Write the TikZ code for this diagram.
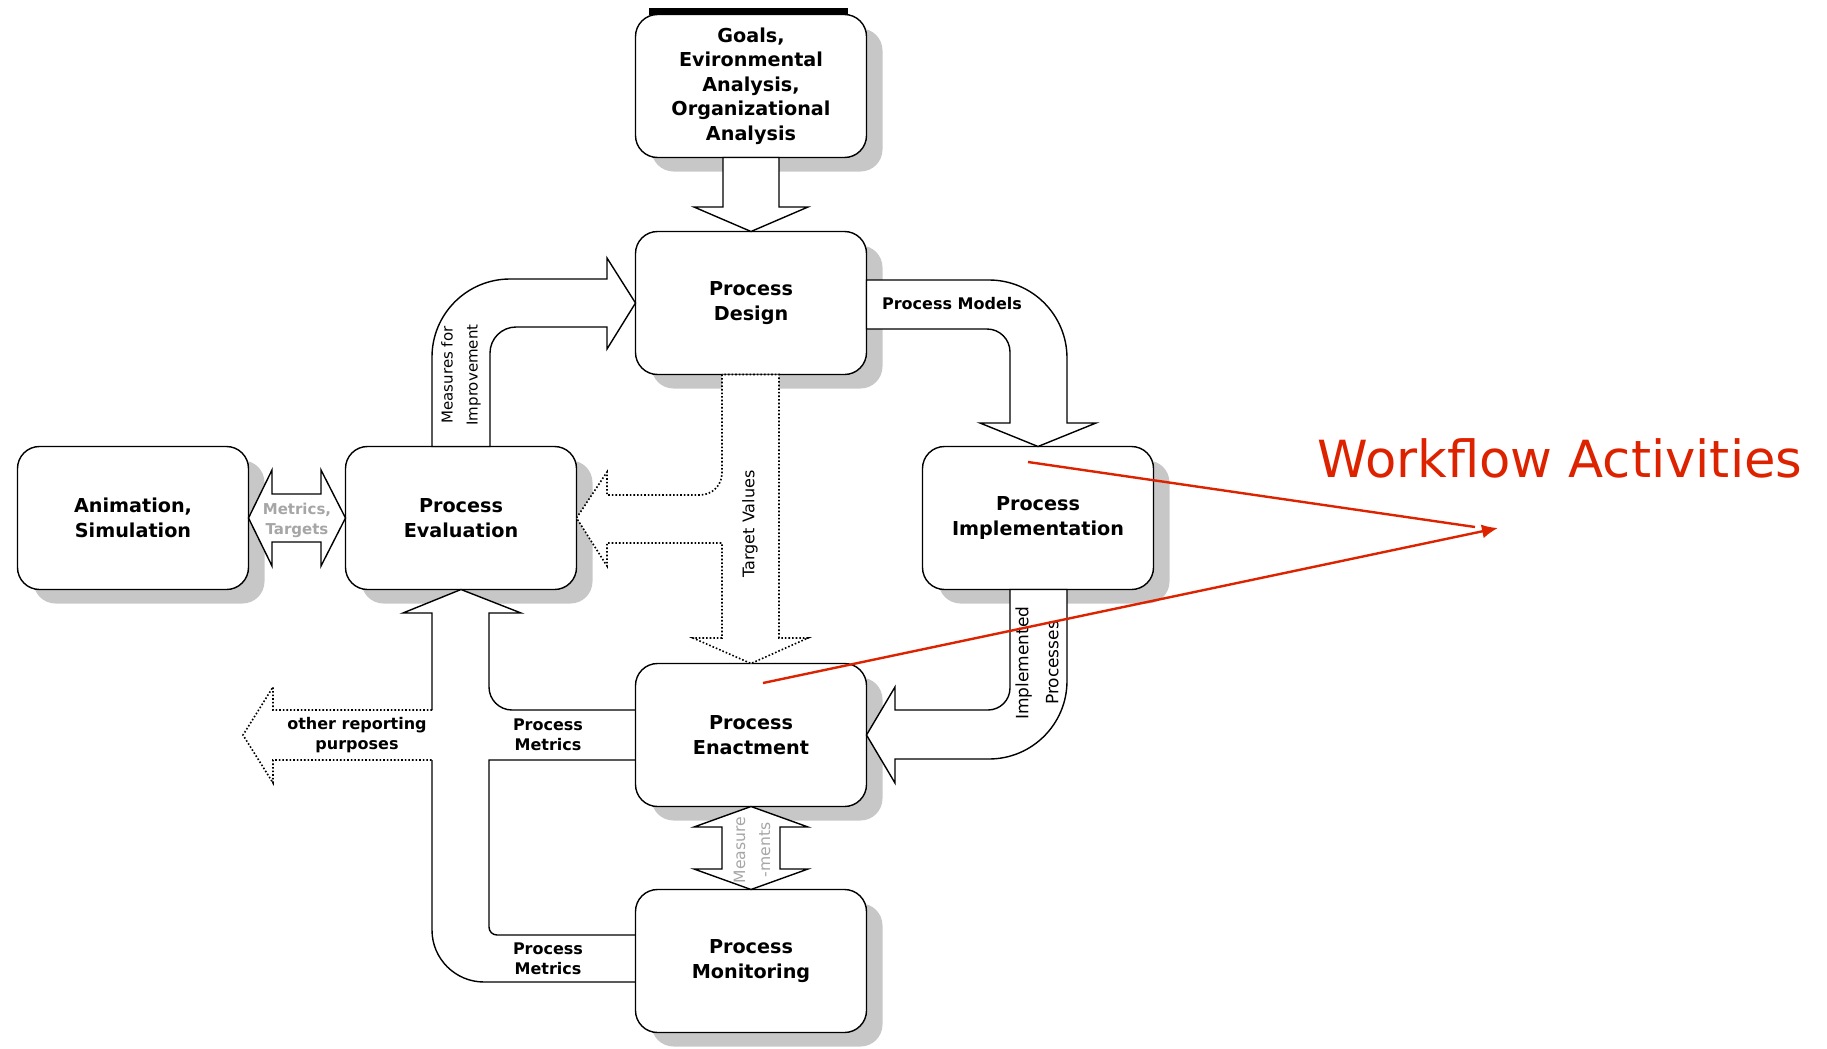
\documentclass[tikz,border=0pt]{standalone}
\usepackage{fontspec}
\setmainfont{DejaVu Sans}
\usetikzlibrary{arrows.meta,calc,shadows}
\definecolor{wfred}{RGB}{221,34,0}

\begin{document}
\begin{tikzpicture}[x=0.5pt, y=-0.5pt,
    box/.style={draw, fill=white, rounded corners=11pt, line width=0.7pt, outer sep=0pt,
        minimum width=115.5pt, minimum height=71.5pt, align=center,
        font=\fontsize{9.6}{12.2}\selectfont\bfseries,
        drop shadow={shadow xshift=8pt, shadow yshift=-7pt, fill=black!22, opacity=1}},
    fatarrow/.style={draw, fill=white, line width=0.7pt},
    fatline/.style={draw, line width=0.7pt},
    dotarrow/.style={draw, fill=white, line width=0.8pt, densely dotted},
    flowlabel/.style={align=center, inner sep=0pt, font=\fontsize{8}{10}\selectfont\bfseries},
    sidelabel/.style={align=center, inner sep=0pt, rotate=90, font=\fontsize{7.5}{12.5}\selectfont},
    greylabel/.style={align=center, inner sep=0pt, text=black!35, font=\fontsize{7.5}{10}\selectfont\bfseries},
    redline/.style={wfred, line width=1.2pt}]

\useasboundingbox (0,0) rectangle (1827,1049);
\fill (649,8) rectangle (848,15);

\node[box] (goals) at (751,86) {Goals,\\Evironmental\\Analysis,\\Organizational\\Analysis};
\node[box] (design) at (751,303) {Process\\Design};
\node[box] (anim) at (133,518) {Animation,\\Simulation};
\node[box] (eval) at (461,518) {Process\\Evaluation};
\node[box] (impl) at (1038,518) {Process\\Implementation};
\node[box] (enact) at (751,735) {Process\\Enactment};
\node[box] (monitor) at (751,961) {Process\\Monitoring};

% block arrows
\draw[fatarrow] (723,0 |- goals.south) -- (723,207) -- (694,207) -- (design.north) -- (808,207) -- (779,207) -- (779,0 |- goals.south) -- cycle;
\draw[fatarrow] (432,0 |- eval.north) -- (432,357) arc[start angle=180, end angle=90, radius=39pt] -- (607,279) -- (607,258) -- (design.west) -- (607,349) -- (607,327) -- (516,327) arc[start angle=90, end angle=180, radius=13pt] -- (490,0 |- eval.north) -- cycle;
\draw[fatarrow] (design.east |- 0,280) -- (989,280) arc[start angle=90, end angle=0, radius=39pt] -- (1067,423) -- (1096,423) -- (impl.north) -- (980,423) -- (1010,423) -- (1010,352) arc[start angle=0, end angle=90, radius=11.5pt] -- (design.east |- 0,329) -- cycle;
\draw[dotarrow] (722,0 |- design.south) -- (722,473) arc[start angle=0, end angle=-90, radius=11pt] -- (607,495) -- (607,472) -- (eval.east) -- (607,566) -- (607,543) -- (722,543) -- (722,638) -- (693,638) -- (enact.north) -- (808,638) -- (779,638) -- (779,0 |- design.south) -- cycle;
\draw[fatarrow] (1010,0 |- impl.south) -- (1010,688) arc[start angle=0, end angle=-90, radius=11pt] -- (895,710) -- (895,687) -- (enact.east) -- (895,783) -- (895,759) -- (989,759) arc[start angle=-90, end angle=0, radius=39pt] -- (1067,0 |- impl.south) -- cycle;
\draw[fatarrow] (anim.east) -- (272,470) -- (272,494) -- (321,494) -- (321,470) -- (eval.west) -- (321,566) -- (321,542) -- (272,542) -- (272,566) -- cycle;
\draw[fatarrow] (enact.south) -- (808,827) -- (780,827) -- (780,869) -- (808,869) -- (monitor.north) -- (694,869) -- (722,869) -- (722,827) -- (694,827) -- cycle;

% metrics back to evaluation
\draw[fatarrow] (432,710) -- (432,613) -- (403,613) -- (eval.south) -- (521,613) -- (489,613) -- (489,687) arc[start angle=180, end angle=270, radius=11.5pt] -- (enact.west |- 0,710);
\draw[fatline] (enact.west |- 0,760) -- (489,760) -- (489,927) arc[start angle=180, end angle=270, radius=4pt] -- (monitor.west |- 0,935);
\draw[fatline] (432,760) -- (432,930) arc[start angle=180, end angle=270, radius=26pt] -- (monitor.west |- 0,982);
\draw[dotarrow] (432,710) -- (273,710) -- (273,687) -- (243,735) -- (273,783) -- (273,760) -- (432,760);

\node[flowlabel] (models) at (952,304) {Process Models};
\node[flowlabel] (metrics1) at (548,735) {Process\\Metrics};
\node[flowlabel] (metrics2) at (548,959) {Process\\Metrics};
\node[flowlabel] (other) at (357,735) {other reporting\\purposes};
\node[sidelabel] (measures) at (461,375) {Measures for\\Improvement};
\node[sidelabel, font=\fontsize{8}{12.5}\selectfont] (targets) at (750,524) {Target Values};
\node[sidelabel, font=\fontsize{8.5}{15}\selectfont] (implemented) at (1037,663) {Implemented\\Processes};
\node[greylabel] (mt) at (297,520) {Metrics,\\Targets};
\node[greylabel, rotate=90, font=\fontsize{7.8}{12.5}\selectfont] (meas) at (752,850) {Measure\\-ments};

% annotation
\node[text=wfred, anchor=base west, inner sep=0pt, font=\fontsize{25.6}{30}\selectfont] (wfa) at (1317,477) {Workflow Activities};
\coordinate (wftip) at (1498,528);
\draw[redline] ($(impl.center)+(-10,-56)$) -- ($(wftip)+(-23,-1)$);
\draw[redline, -{Latex[length=8pt, width=7pt]}] ($(enact.center)+(12,-52)$) -- (wftip);
\end{tikzpicture}
\end{document}
